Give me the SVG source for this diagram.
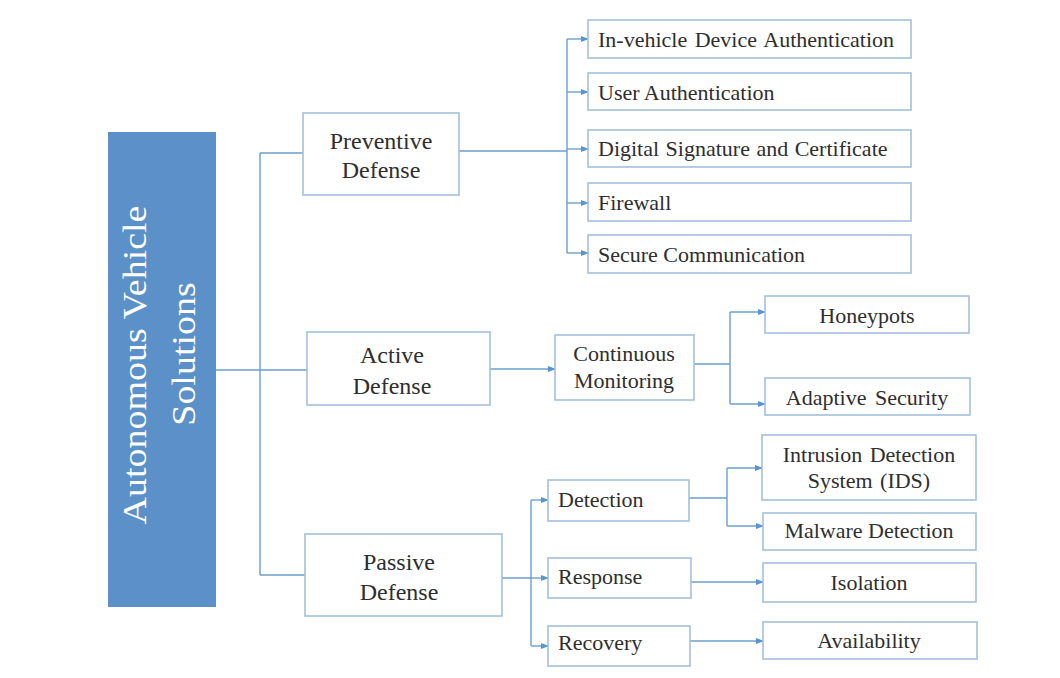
<svg xmlns="http://www.w3.org/2000/svg" width="1060" height="678" viewBox="0 0 1060 678">
<style>
.box{fill:#fff;stroke:#a3c0dd;stroke-width:1.6}
.t{font-family:"Liberation Serif","Times New Roman",Times,serif;font-size:22px;fill:#2e2e2e}
.tc{text-anchor:middle}
.big{font-size:24px}
.c{fill:none;stroke:#6b9fd0;stroke-width:1.4}
.root{font-family:"Liberation Serif","Times New Roman",Times,serif;font-size:38px;fill:#fff;text-anchor:middle}
</style>
<defs>
<marker id="ah" viewBox="0 0 8 8" refX="7" refY="4" markerWidth="8" markerHeight="8" markerUnits="userSpaceOnUse" orient="auto">
<path d="M0,1 L8,4 L0,7 z" fill="#5b95cf"/>
</marker>
</defs>
<rect width="1060" height="678" fill="#fff"/>
<g id="connectors">
<path class="c" d="M216,370 H260 M260,153 V575 M260,153 H303 M260,370 H307 M260,575 H305"/>
<path class="c" d="M459,151 H567 M567,39 V253"/>
<path class="c" marker-end="url(#ah)" d="M567,39 H588"/>
<path class="c" marker-end="url(#ah)" d="M567,92 H588"/>
<path class="c" marker-end="url(#ah)" d="M567,149 H588"/>
<path class="c" marker-end="url(#ah)" d="M567,203 H588"/>
<path class="c" marker-end="url(#ah)" d="M567,253 H588"/>
<path class="c" marker-end="url(#ah)" d="M490,369 H555"/>
<path class="c" d="M694,364 H730 M730,312 V404"/>
<path class="c" marker-end="url(#ah)" d="M730,312 H765"/>
<path class="c" marker-end="url(#ah)" d="M730,404 H765"/>
<path class="c" d="M502,578 H531 M531,500 V646"/>
<path class="c" marker-end="url(#ah)" d="M531,500 H548"/>
<path class="c" marker-end="url(#ah)" d="M531,578 H548"/>
<path class="c" marker-end="url(#ah)" d="M531,646 H548"/>
<path class="c" d="M689,498 H727 M727,468 V526"/>
<path class="c" marker-end="url(#ah)" d="M727,468 H762"/>
<path class="c" marker-end="url(#ah)" d="M727,526 H763"/>
<path class="c" marker-end="url(#ah)" d="M691,582 H763"/>
<path class="c" marker-end="url(#ah)" d="M690,641 H763"/>
</g>
<g id="root">
<rect x="108" y="132" width="108" height="475" fill="#5b90c8"/>
<text class="root" transform="translate(146,365) scale(0.9,1) rotate(-90)" x="0" y="0">Autonomous Vehicle</text>
<text class="root" transform="translate(195,354) scale(0.9,1) rotate(-90)" x="0" y="0">Solutions</text>
</g>
<g id="preventive">
<rect class="box" x="303" y="113" width="156" height="82"/>
<text class="t tc big" x="381" y="149">Preventive</text>
<text class="t tc big" x="381" y="178">Defense</text>
</g>
<g id="active">
<rect class="box" x="307" y="332" width="183" height="73"/>
<text class="t tc big" x="392" y="363">Active</text>
<text class="t tc big" x="392" y="394">Defense</text>
</g>
<g id="passive">
<rect class="box" x="305" y="534" width="197" height="82"/>
<text class="t tc big" x="399" y="570">Passive</text>
<text class="t tc big" x="399" y="600">Defense</text>
</g>
<g id="in-vehicle">
<rect class="box" x="588" y="20" width="323" height="38"/>
<text class="t" x="598" y="47" word-spacing="2">In-vehicle Device Authentication</text>
</g>
<g id="user-auth">
<rect class="box" x="588" y="73" width="323" height="37"/>
<text class="t" x="598" y="100">User Authentication</text>
</g>
<g id="digital-sig">
<rect class="box" x="588" y="130" width="323" height="37"/>
<text class="t" x="598" y="156" word-spacing="1">Digital Signature and Certificate</text>
</g>
<g id="firewall">
<rect class="box" x="588" y="183" width="323" height="38"/>
<text class="t" x="598" y="210">Firewall</text>
</g>
<g id="secure-comm">
<rect class="box" x="588" y="235" width="323" height="38"/>
<text class="t" x="598" y="262">Secure Communication</text>
</g>
<g id="continuous">
<rect class="box" x="555" y="335" width="139" height="65"/>
<text class="t tc" x="624" y="361">Continuous</text>
<text class="t tc" x="624" y="388">Monitoring</text>
</g>
<g id="honeypots">
<rect class="box" x="765" y="296" width="204" height="37"/>
<text class="t tc" x="867" y="323">Honeypots</text>
</g>
<g id="adaptive">
<rect class="box" x="765" y="378" width="205" height="37"/>
<text class="t tc" x="867" y="405" word-spacing="3">Adaptive Security</text>
</g>
<g id="detection">
<rect class="box" x="548" y="480" width="141" height="41"/>
<text class="t" x="558" y="507">Detection</text>
</g>
<g id="response">
<rect class="box" x="548" y="558" width="143" height="40"/>
<text class="t" x="558" y="584">Response</text>
</g>
<g id="recovery">
<rect class="box" x="548" y="626" width="142" height="40"/>
<text class="t" x="558" y="650">Recovery</text>
</g>
<g id="ids">
<rect class="box" x="762" y="435" width="214" height="65"/>
<text class="t tc" x="869" y="462" word-spacing="2">Intrusion Detection</text>
<text class="t tc" x="869" y="488" word-spacing="2">System (IDS)</text>
</g>
<g id="malware">
<rect class="box" x="763" y="513" width="213" height="37"/>
<text class="t tc" x="869" y="538">Malware Detection</text>
</g>
<g id="isolation">
<rect class="box" x="763" y="563" width="213" height="39"/>
<text class="t tc" x="869" y="590">Isolation</text>
</g>
<g id="availability">
<rect class="box" x="763" y="622" width="214" height="37"/>
<text class="t tc" x="869" y="648">Availability</text>
</g>
</svg>
